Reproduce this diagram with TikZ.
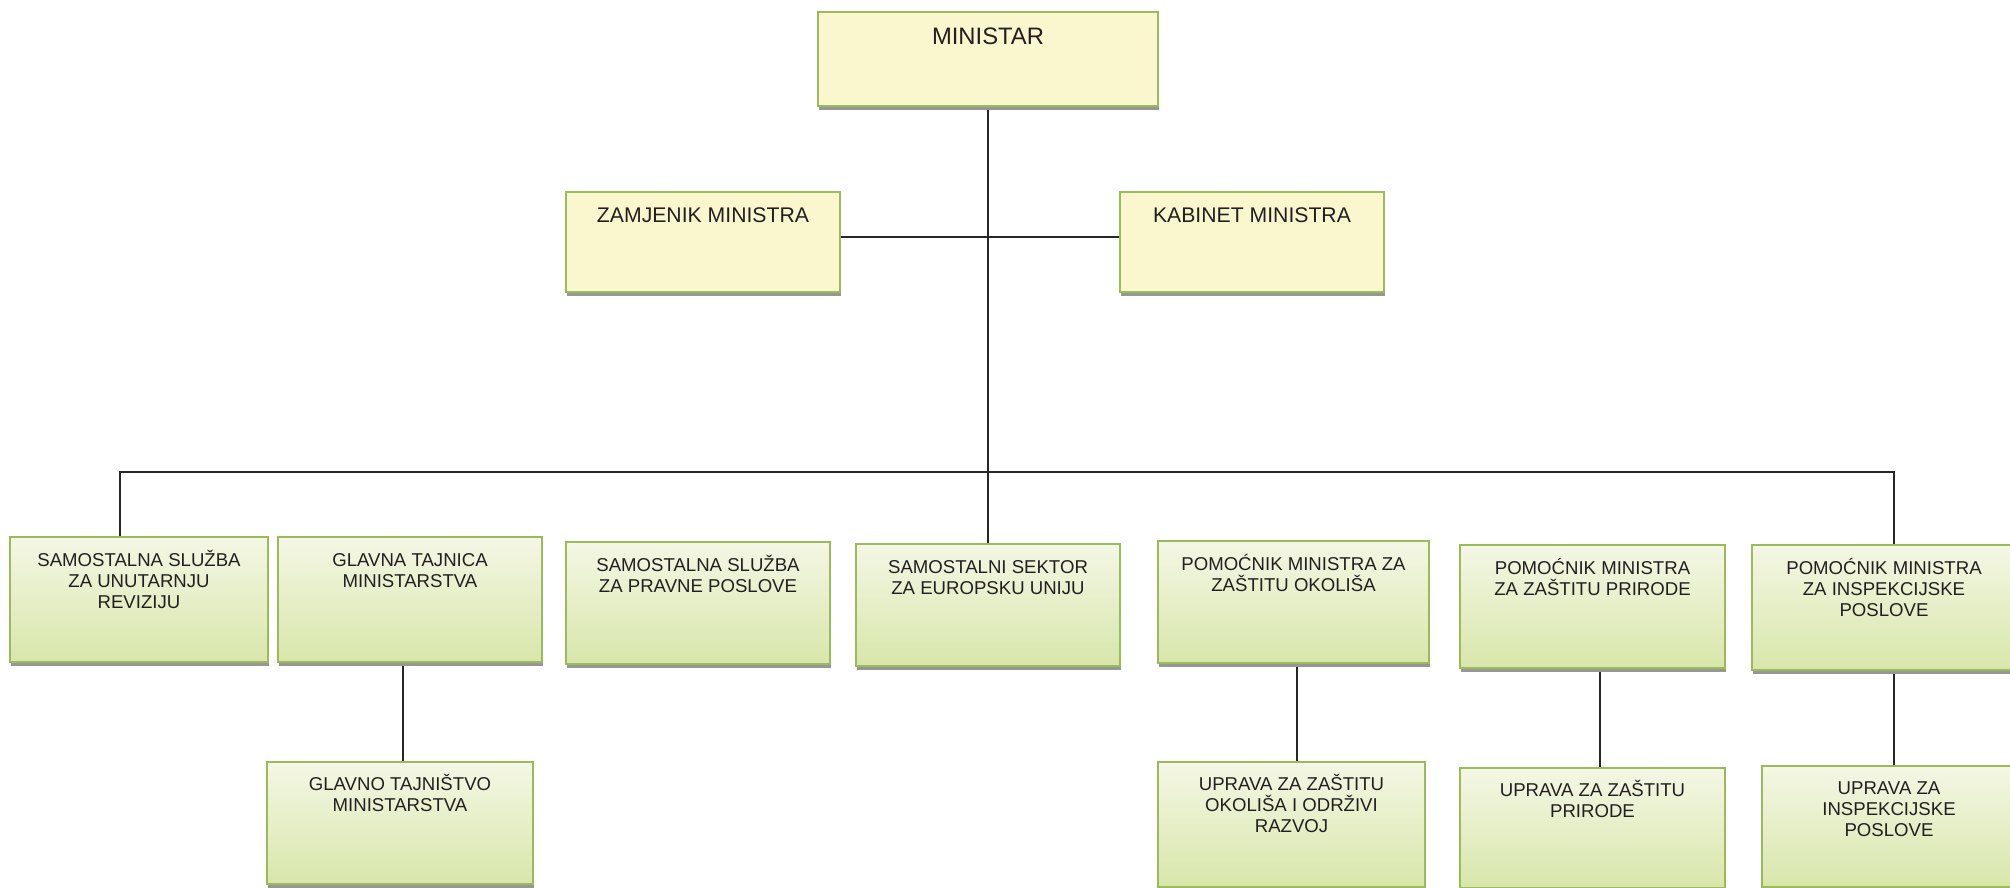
\documentclass[tikz,border=0pt]{standalone}
\usepackage{fontspec}
\setmainfont{Liberation Sans}
\usetikzlibrary{shadows,backgrounds}
\definecolor{bordergreen}{RGB}{155,187,89}
\definecolor{yfill}{RGB}{250,247,206}
\definecolor{gtop}{RGB}{244,247,229}
\definecolor{gbot}{RGB}{216,230,170}
\definecolor{shadowgray}{RGB}{150,150,150}
\definecolor{ink}{RGB}{35,31,32}
\tikzset{
  boxbase/.style={draw=bordergreen, line width=0.9pt, outer sep=0pt, inner sep=0pt,
    anchor=north west,
    drop shadow={shadow xshift=0.5pt, shadow yshift=-2pt, fill=shadowgray, opacity=1}},
  ybox/.style={boxbase, fill=yfill},
  gbox/.style={boxbase, top color=gtop, bottom color=gbot},
  lbl/.style={anchor=north, inner sep=0pt, align=center, text=ink,
    font=\fontsize{9.3pt}{10.5pt}\selectfont},
  biglbl/.style={anchor=north, inner sep=0pt, align=center, text=ink,
    font=\fontsize{10.6pt}{12pt}\selectfont},
  toplbl/.style={anchor=north, inner sep=0pt, align=center, text=ink,
    font=\fontsize{11.9pt}{13pt}\selectfont},
  conn/.style={line width=1pt, draw=black!85},
}
\begin{document}
\begin{tikzpicture}[x=0.5pt, y=-0.5pt]
\clip (0,0) rectangle (2010,888);

% top level
\node[ybox, minimum width=170pt, minimum height=47pt] (MIN) at (818,12) {};
\node[toplbl] (MINt) at (MIN.north) {\rule{0pt}{16pt}MINISTAR};

\node[ybox, minimum width=137pt, minimum height=50pt] (ZAM) at (566,192) {};
\node[biglbl] (ZAMt) at (ZAM.north) {\rule{0pt}{15pt}ZAMJENIK MINISTRA};

\node[ybox, minimum width=132pt, minimum height=50pt] (KAB) at (1120,192) {};
\node[biglbl] (KABt) at (KAB.north) {\rule{0pt}{15pt}KABINET MINISTRA};

% second row
\node[gbox, minimum width=129pt, minimum height=62.5pt] (B1) at (10,537) {};
\node[lbl] (B1t) at (B1.north) {\rule{0pt}{14.5pt}SAMOSTALNA SLUŽBA\\ZA UNUTARNJU\\REVIZIJU};

\node[gbox, minimum width=132pt, minimum height=62.5pt] (B2) at (278,537) {};
\node[lbl] (B2t) at (B2.north) {\rule{0pt}{14.5pt}GLAVNA TAJNICA\\MINISTARSTVA};

\node[gbox, minimum width=132pt, minimum height=61pt] (B3) at (566,542) {};
\node[lbl] (B3t) at (B3.north) {\rule{0pt}{14.5pt}SAMOSTALNA SLUŽBA\\ZA PRAVNE POSLOVE};

\node[gbox, minimum width=132pt, minimum height=61pt] (B4) at (856,544) {};
\node[lbl] (B4t) at (B4.north) {\rule{0pt}{14.5pt}SAMOSTALNI SEKTOR\\ZA EUROPSKU UNIJU};

\node[gbox, minimum width=135.5pt, minimum height=61pt] (B5) at (1158,541) {};
\node[lbl] (B5t) at (B5.north) {\rule{0pt}{14.5pt}POMOĆNIK MINISTRA ZA\\ZAŠTITU OKOLIŠA};

\node[gbox, minimum width=132.5pt, minimum height=61.5pt] (B6) at (1460,545) {};
\node[lbl] (B6t) at (B6.north) {\rule{0pt}{14.5pt}POMOĆNIK MINISTRA\\ZA ZAŠTITU PRIRODE};

\node[gbox, minimum width=132pt, minimum height=62.5pt] (B7) at (1752,545) {};
\node[lbl] (B7t) at (B7.north) {\rule{0pt}{14.5pt}POMOĆNIK MINISTRA\\ZA INSPEKCIJSKE\\POSLOVE};

% third row
\node[gbox, minimum width=133pt, minimum height=61pt] (C1) at (267,762) {};
\node[lbl] (C1t) at (C1.north) {\rule{0pt}{14pt}GLAVNO TAJNIŠTVO\\MINISTARSTVA};

\node[gbox, minimum width=133.5pt, minimum height=62.5pt] (C5) at (1158,762) {};
\node[lbl] (C5t) at (C5.north) {\rule{0pt}{14pt}UPRAVA ZA ZAŠTITU\\OKOLIŠA I ODRŽIVI\\RAZVOJ};

\node[gbox, minimum width=132.5pt, minimum height=60pt] (C6) at (1460,768) {};
\node[lbl] (C6t) at (C6.north) {\rule{0pt}{14pt}UPRAVA ZA ZAŠTITU\\PRIRODE};

\node[gbox, minimum width=127pt, minimum height=60.5pt] (C7) at (1762,766) {};
\node[lbl] (C7t) at (C7.north) {\rule{0pt}{14pt}UPRAVA ZA\\INSPEKCIJSKE\\POSLOVE};

% connectors
\coordinate (bl) at (120,472);
\coordinate (br) at (1894,472);
\coordinate (x2) at (403,0);
\coordinate (x5) at (1297,0);
\coordinate (x6) at (1600,0);
\begin{pgfonlayer}{background}
\draw[conn] (MIN.south) -- (B4.north);
\draw[conn] ([yshift=2.5pt]ZAM.east) -- ([yshift=2.5pt]KAB.west);
\draw[conn] (B1.north -| bl) -- (bl) -- (br) -- (B7.north -| br);
\draw[conn] (B2.south -| x2) -- (C1.north -| x2);
\draw[conn] (B5.south -| x5) -- (C5.north -| x5);
\draw[conn] (B6.south -| x6) -- (C6.north -| x6);
\draw[conn] (B7.south -| br) -- (C7.north -| br);
\end{pgfonlayer}
\end{tikzpicture}
\end{document}
